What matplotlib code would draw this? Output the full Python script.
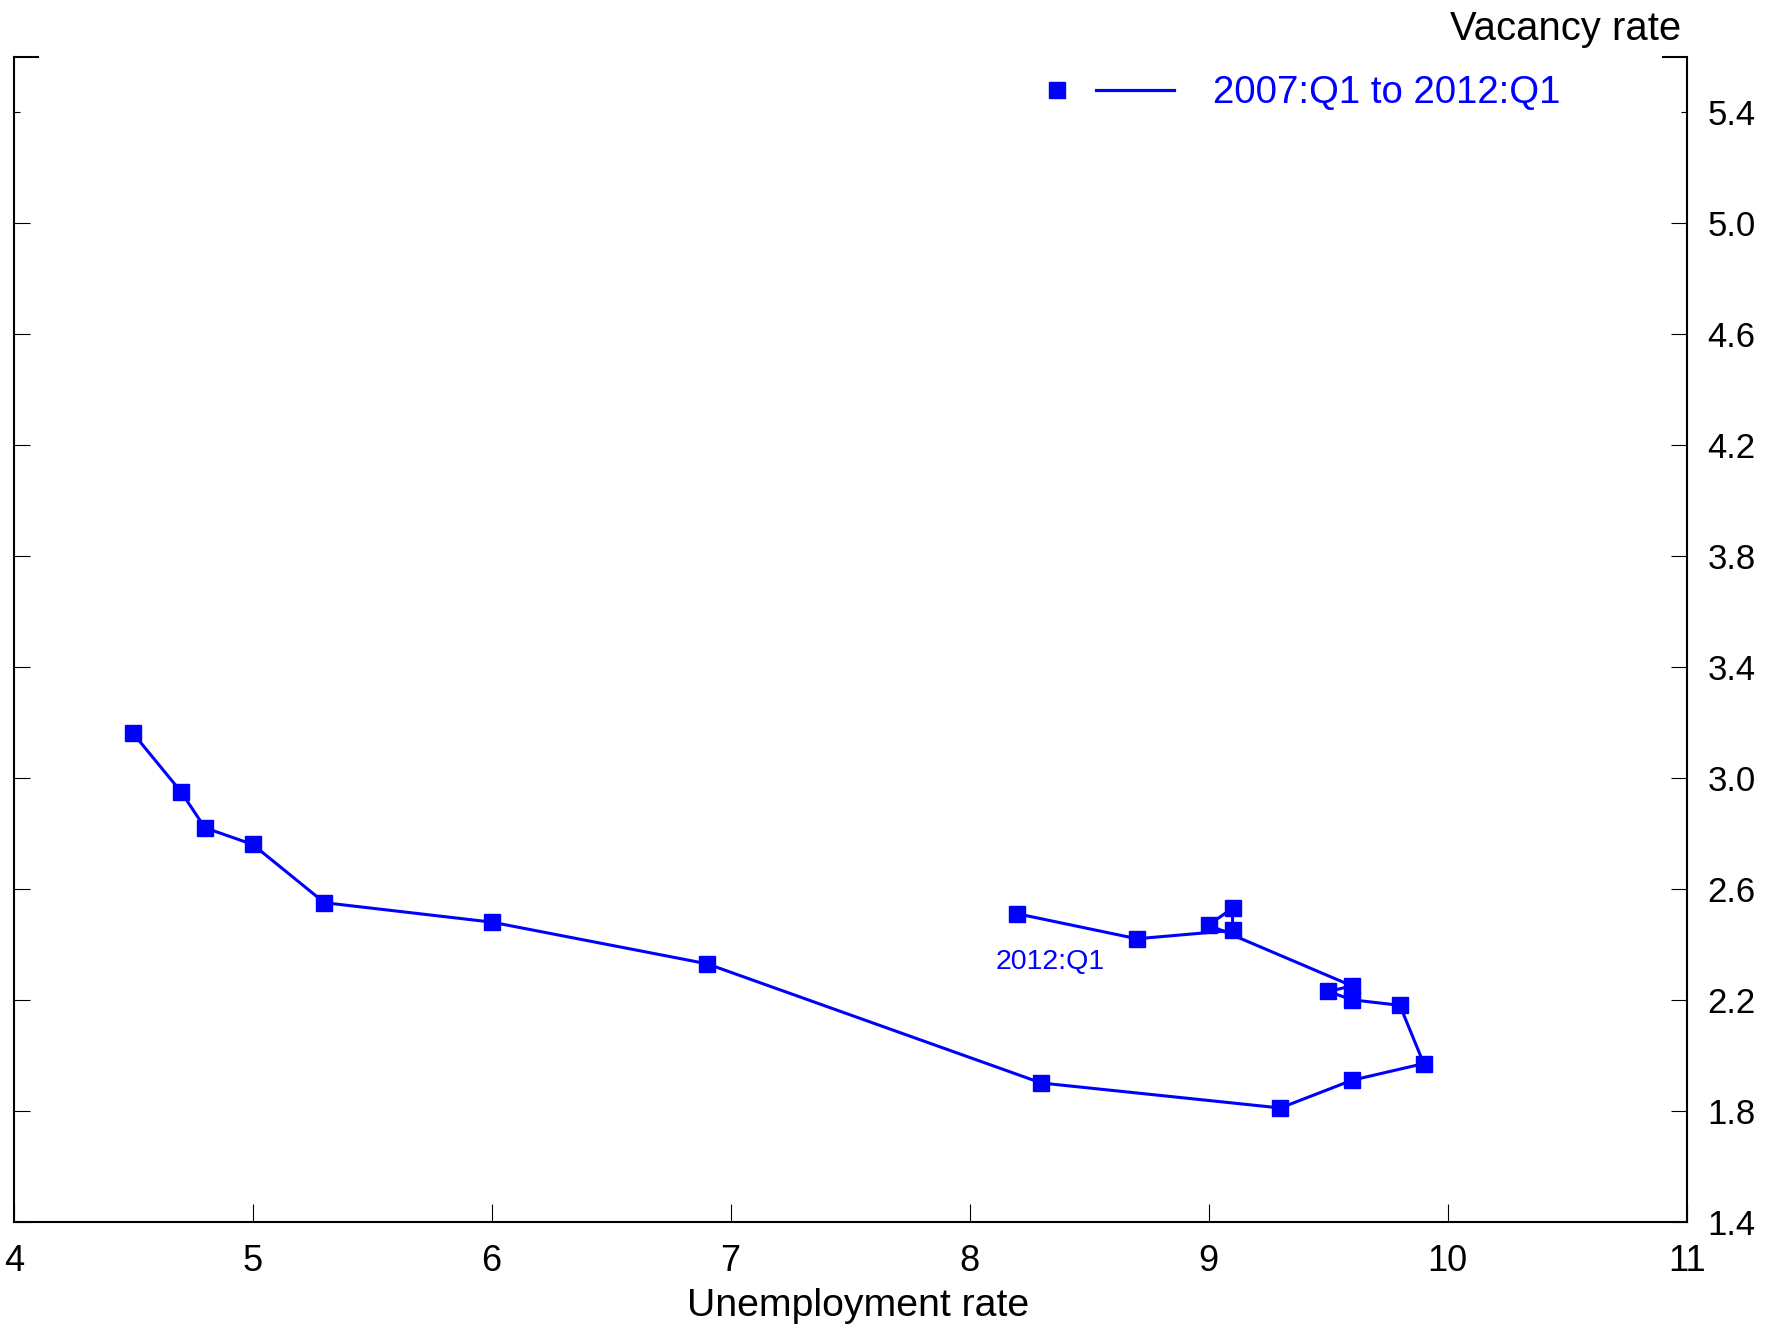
import matplotlib
matplotlib.use('Agg')
import matplotlib.pyplot as plt
from matplotlib.lines import Line2D
from matplotlib.legend_handler import HandlerTuple

plt.rcParams['font.family'] = ['Liberation Sans', 'DejaVu Sans']

# unemployment rate (x) and vacancy rate (y), quarterly 2007:Q1 -> 2012:Q1
unemployment = [4.5, 4.7, 4.8, 5.0, 5.3, 6.0, 6.9, 8.3, 9.3, 9.6, 9.9,
                9.8, 9.6, 9.5, 9.6, 9.0, 9.1, 9.1, 8.7, 8.2]
vacancy = [3.16, 2.95, 2.82, 2.76, 2.55, 2.48, 2.33, 1.90, 1.81, 1.91, 1.97,
           2.18, 2.20, 2.23, 2.25, 2.47, 2.53, 2.45, 2.42, 2.51]

x_ticks = [4, 5, 6, 7, 8, 9, 10, 11]
y_ticks = [1.4, 1.8, 2.2, 2.6, 3.0, 3.4, 3.8, 4.2, 4.6, 5.0, 5.4]
series_label = '2007:Q1 to 2012:Q1'
end_label = '2012:Q1'

blue = '#0000ff'

fig = plt.figure(figsize=(17.75, 13.32), dpi=100)
ax = fig.add_axes([0.00772, 0.0828, 0.9425, 0.8747])

ax.plot(unemployment, vacancy, color=blue, lw=2.2, marker='s', ms=11,
        mec=blue, mfc=blue)

ax.annotate(end_label, xy=(unemployment[-1], vacancy[-1]), xytext=(-16, -39.5),
            textcoords='offset points', ha='left', va='baseline',
            fontsize=20.5, color=blue)

ax.set_xlim(4, 11)
ax.set_ylim(1.4, 5.6)

ax.spines['top'].set_visible(False)
for s in ['left', 'right', 'bottom']:
    ax.spines[s].set_linewidth(1.5)

ax.set_xticks(x_ticks)
ax.set_xticklabels([str(t) for t in x_ticks])
ax.set_yticks(y_ticks)
ax.set_yticklabels(['%.1f' % t for t in y_ticks])
ax.set_yticks([5.6], minor=True)

ax.tick_params(axis='x', which='major', direction='in', length=13, width=0.8,
               bottom=True, top=False, labelsize=26, pad=16)
ax.tick_params(axis='y', which='major', direction='in', length=11.5, width=0.8,
               left=True, right=True, labelleft=False, labelright=True,
               labelsize=25, pad=15)
ax.tick_params(axis='y', which='minor', direction='in', length=18, width=1.5,
               left=True, right=True, labelleft=False, labelright=False)
ax.tick_params(axis='x', which='minor', bottom=False, top=False)

# the 5.4 tick is drawn shorter in the original
top_tick = ax.yaxis.get_major_ticks()[len(y_ticks) - 1]
top_tick.tick1line.set_markersize(4.5)
top_tick.tick2line.set_markersize(4.5)

ax.text(0.997, 1.0146, 'Vacancy rate', transform=ax.transAxes, ha='right',
        va='baseline', fontsize=28.8)
fig.text(0.4835, 0.0122, 'Unemployment rate', ha='center', va='baseline',
         fontsize=28.3)

h_marker = Line2D([], [], color=blue, marker='s', ms=11, ls='none')
h_line = Line2D([], [], color=blue, lw=2.3)
leg = ax.legend([(h_marker, h_line)], [series_label],
                handler_map={tuple: HandlerTuple(ndivide=None, pad=0)},
                loc='center left', bbox_to_anchor=(0.6003, 0.9684),
                frameon=False, fontsize=27.6, handlelength=4.07,
                handletextpad=1.02, borderpad=0, borderaxespad=0)
for t in leg.get_texts():
    t.set_color(blue)

fig.savefig('out.png', dpi=100)
